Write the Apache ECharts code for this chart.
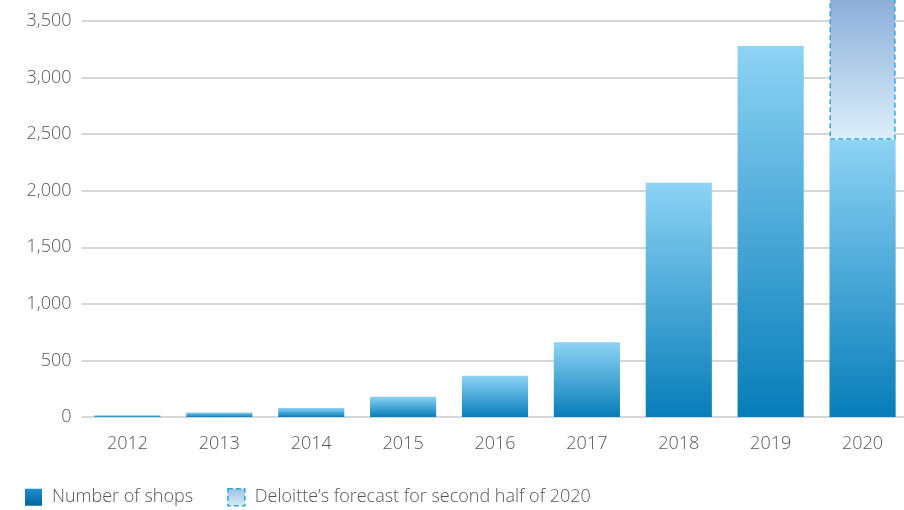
<!DOCTYPE html>
<html>
<head>
<meta charset="utf-8">
<script src="https://cdn.jsdelivr.net/npm/echarts@6/dist/echarts.min.js"></script>
<style>
  html, body { margin: 0; padding: 0; background: #fff; overflow: hidden; width: 904px; height: 510px; }
  /* the value axis runs to 4,000 but the view is cut just above 3,500 */
  #chart { width: 910px; height: 546px; margin-top: -36px; }
</style>
</head>
<body>
<div id="chart"></div>
<script>
// Shop counts by year, with the second-half forecast stacked on 2020
const years = ['2012', '2013', '2014', '2015', '2016', '2017', '2018', '2019', '2020'];
const shops = [15, 40, 80, 180, 365, 660, 2070, 3280, 2450];
const forecast = ['-', '-', '-', '-', '-', '-', '-', '-', 1350];
const seriesNames = ['Number of shops', 'Deloitte\u2019s forecast for second half of 2020'];

const FONT = '"Open Sans", "Noto Sans", sans-serif';
const TEXT = '#555555';

const chart = echarts.init(document.getElementById('chart'), null, { renderer: 'canvas' });

const grad = (top, bottom) => new echarts.graphic.LinearGradient(0, 0, 0, 1, [
  { offset: 0, color: top },
  { offset: 1, color: bottom }
]);

const shopFill = grad('#8dd3f4', '#077db9');
const forecastFill = grad('#84a8d5', '#dcf0fb');
const forecastBorder = { borderColor: '#2ea6de', borderWidth: 1.5, borderType: [5, 3] };

chart.setOption({
  animation: false,
  grid: { left: 81.5, right: 1.5, top: 0.5, bottom: 93, containLabel: false, outerBoundsMode: 'none' },
  legend: {
    left: 25,
    top: 524,
    padding: 0,
    itemWidth: 17,
    itemHeight: 17,
    itemGap: 34,
    icon: 'rect',
    textStyle: { fontFamily: FONT, fontSize: 18, fontWeight: 300, color: TEXT, padding: [0, 0, 0, 5] },
    data: [
      { name: seriesNames[0], itemStyle: { color: grad('#1b8fcc', '#02679f') } },
      { name: seriesNames[1], itemStyle: Object.assign({ color: grad('#9dbfe4', '#d9eefa') }, forecastBorder) }
    ]
  },
  xAxis: {
    type: 'category',
    data: years,
    axisTick: { show: false },
    axisLine: { show: false },
    axisLabel: { margin: 18, fontFamily: FONT, fontSize: 18, fontWeight: 300, color: TEXT }
  },
  yAxis: {
    type: 'value',
    min: 0,
    max: 4000,
    interval: 500,
    axisLine: { show: false },
    axisTick: { show: false },
    splitLine: { lineStyle: { color: '#c9c9c9', width: 1.5 } },
    axisLabel: {
      margin: 10,
      fontFamily: FONT,
      fontSize: 18,
      fontWeight: 300,
      color: TEXT,
      formatter: v => v.toLocaleString('en-US')
    }
  },
  series: [
    {
      name: seriesNames[0],
      type: 'bar',
      stack: 'total',
      barCategoryGap: '28%',
      data: shops,
      itemStyle: { color: shopFill }
    },
    {
      name: seriesNames[1],
      type: 'bar',
      stack: 'total',
      barCategoryGap: '28%',
      data: forecast,
      itemStyle: Object.assign({ color: forecastFill }, forecastBorder)
    }
  ]
});
</script>
</body>
</html>
